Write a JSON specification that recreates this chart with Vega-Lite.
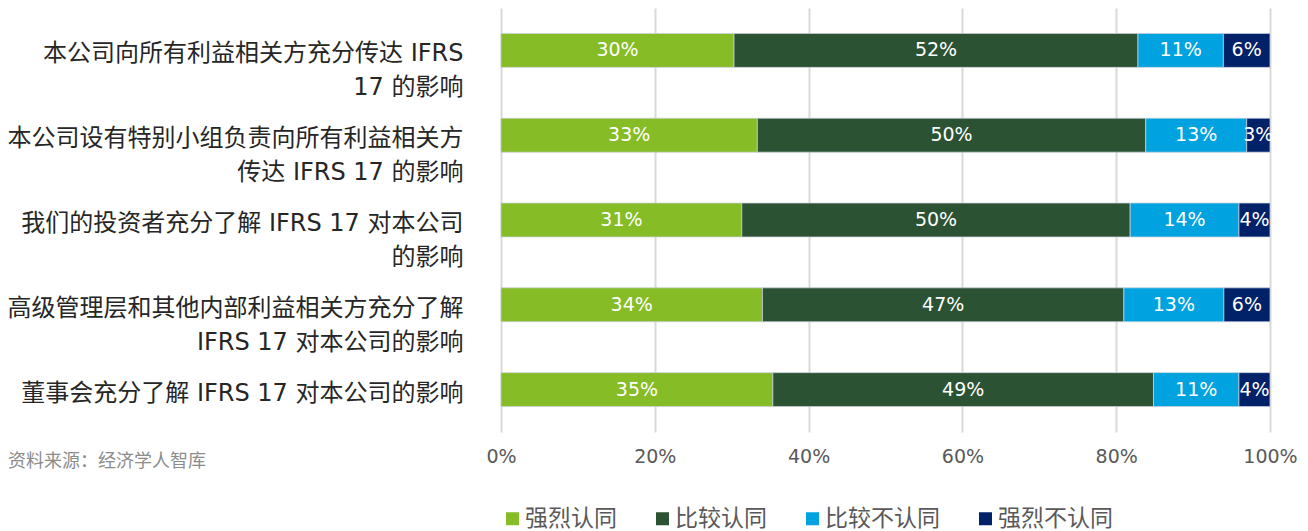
{
  "$schema": "https://vega.github.io/schema/vega-lite/v6.json",
  "width": 769,
  "height": 424,
  "autosize": {"type": "none"},
  "padding": {"left": 501, "top": 8, "right": 38, "bottom": 99},
  "background": "white",
  "title": {
    "text": "资料来源：经济学人智库",
    "orient": "bottom",
    "anchor": "start",
    "frame": "group",
    "dx": -493,
    "dy": -94,
    "offset": 16,
    "fontSize": 18,
    "fontWeight": "normal",
    "color": "#8c8c8c",
    "font": "DejaVu Sans, Noto Sans CJK SC"
  },
  "config": {
    "font": "DejaVu Sans, Noto Sans CJK SC",
    "view": {"stroke": null}
  },
  "data": {
    "values": [
      {"q": "本公司向所有利益相关方充分传达 IFRS|17 的影响", "r": "强烈认同", "o": 1, "v": 30},
      {"q": "本公司向所有利益相关方充分传达 IFRS|17 的影响", "r": "比较认同", "o": 2, "v": 52},
      {"q": "本公司向所有利益相关方充分传达 IFRS|17 的影响", "r": "比较不认同", "o": 3, "v": 11},
      {"q": "本公司向所有利益相关方充分传达 IFRS|17 的影响", "r": "强烈不认同", "o": 4, "v": 6},
      {"q": "本公司设有特别小组负责向所有利益相关方|传达 IFRS 17 的影响", "r": "强烈认同", "o": 1, "v": 33},
      {"q": "本公司设有特别小组负责向所有利益相关方|传达 IFRS 17 的影响", "r": "比较认同", "o": 2, "v": 50},
      {"q": "本公司设有特别小组负责向所有利益相关方|传达 IFRS 17 的影响", "r": "比较不认同", "o": 3, "v": 13},
      {"q": "本公司设有特别小组负责向所有利益相关方|传达 IFRS 17 的影响", "r": "强烈不认同", "o": 4, "v": 3},
      {"q": "我们的投资者充分了解 IFRS 17 对本公司|的影响", "r": "强烈认同", "o": 1, "v": 31},
      {"q": "我们的投资者充分了解 IFRS 17 对本公司|的影响", "r": "比较认同", "o": 2, "v": 50},
      {"q": "我们的投资者充分了解 IFRS 17 对本公司|的影响", "r": "比较不认同", "o": 3, "v": 14},
      {"q": "我们的投资者充分了解 IFRS 17 对本公司|的影响", "r": "强烈不认同", "o": 4, "v": 4},
      {"q": "高级管理层和其他内部利益相关方充分了解|IFRS 17 对本公司的影响", "r": "强烈认同", "o": 1, "v": 34},
      {"q": "高级管理层和其他内部利益相关方充分了解|IFRS 17 对本公司的影响", "r": "比较认同", "o": 2, "v": 47},
      {"q": "高级管理层和其他内部利益相关方充分了解|IFRS 17 对本公司的影响", "r": "比较不认同", "o": 3, "v": 13},
      {"q": "高级管理层和其他内部利益相关方充分了解|IFRS 17 对本公司的影响", "r": "强烈不认同", "o": 4, "v": 6},
      {"q": "董事会充分了解 IFRS 17 对本公司的影响", "r": "强烈认同", "o": 1, "v": 35},
      {"q": "董事会充分了解 IFRS 17 对本公司的影响", "r": "比较认同", "o": 2, "v": 49},
      {"q": "董事会充分了解 IFRS 17 对本公司的影响", "r": "比较不认同", "o": 3, "v": 11},
      {"q": "董事会充分了解 IFRS 17 对本公司的影响", "r": "强烈不认同", "o": 4, "v": 4}
    ]
  },
  "encoding": {
    "y": {
      "field": "q",
      "type": "nominal",
      "sort": null,
      "title": null,
      "scale": {"paddingInner": 0.6, "paddingOuter": 0.3},
      "axis": {
        "domain": false,
        "ticks": false,
        "labelExpr": "split(datum.label, '|')",
        "labelFontSize": 24,
        "labelColor": "#262626",
        "labelAlign": "right",
        "labelBaseline": "top",
        "labelOffset": -8,
        "labelLineHeight": 34,
        "labelPadding": 38,
        "labelLimit": 600
      }
    }
  },
  "layer": [
    {
      "mark": {"type": "bar", "stroke": "#c8d0dc", "strokeWidth": 0.75},
      "encoding": {
        "x": {
          "field": "v",
          "type": "quantitative",
          "stack": "normalize",
          "title": null,
          "scale": {"domain": [0, 1], "nice": false},
          "axis": {
            "format": ".0%",
            "values": [0, 0.2, 0.4, 0.6, 0.8, 1],
            "domain": false,
            "ticks": false,
            "grid": true,
            "gridColor": "#d9d9d9",
            "gridWidth": 2,
            "labelFontSize": 19,
            "labelColor": "#595959",
            "labelPadding": 15,
            "labelFlush": false
          }
        },
        "color": {
          "field": "r",
          "type": "nominal",
          "sort": ["强烈认同", "比较认同", "比较不认同", "强烈不认同"],
          "scale": {
            "domain": ["强烈认同", "比较认同", "比较不认同", "强烈不认同"],
            "range": ["#86BC25", "#2C5234", "#00A3E0", "#012169"]
          },
          "legend": {
            "title": null,
            "orient": "bottom",
            "direction": "horizontal",
            "symbolType": "square",
            "symbolSize": 169,
            "symbolStrokeWidth": 0,
            "labelFontSize": 23,
            "labelColor": "#595959",
            "labelOffset": 1,
            "columnPadding": 34,
            "padding": 0,
            "offset": 41,
            "labelLimit": 300
          }
        },
        "order": {"field": "o", "type": "quantitative"}
      }
    },
    {
      "transform": [{"calculate": "datum.v + '%'", "as": "lab"}],
      "mark": {"type": "text", "color": "white", "fontSize": 19, "align": "center", "baseline": "middle"},
      "encoding": {
        "x": {"field": "v", "type": "quantitative", "stack": "normalize", "bandPosition": 0.5},
        "text": {"field": "lab"},
        "detail": {"field": "r"},
        "order": {"field": "o", "type": "quantitative"}
      }
    }
  ]
}
